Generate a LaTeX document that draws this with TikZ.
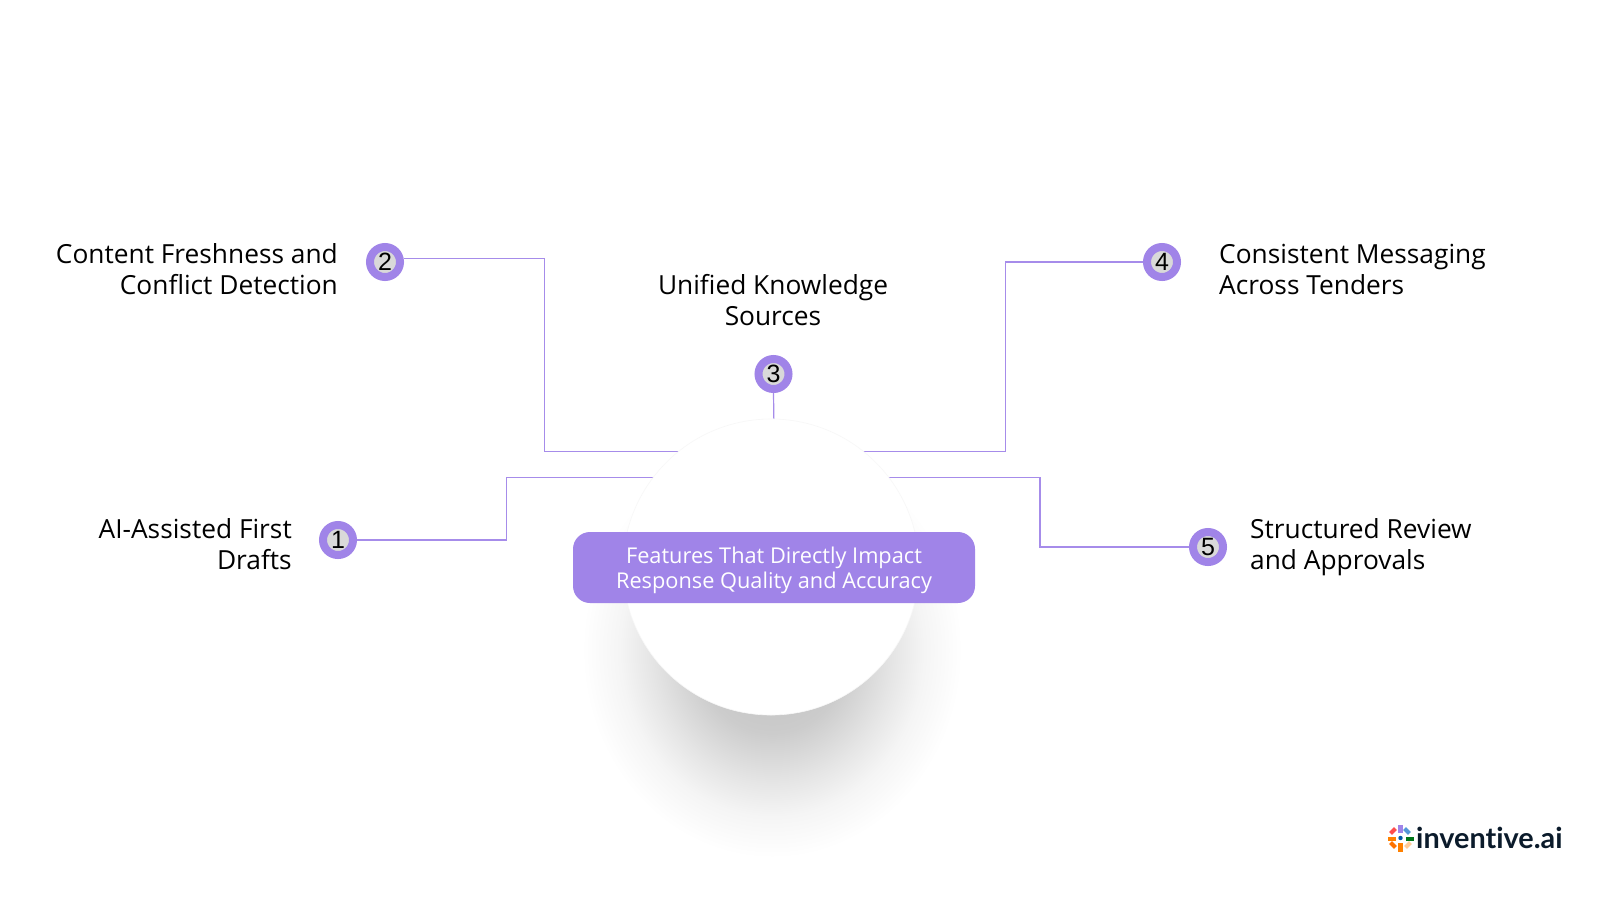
\documentclass[tikz,border=0pt]{standalone}
\usepackage{fontspec}
\setmainfont{Open Sans}
\newfontfamily\digitfont{Liberation Sans}
\newfontfamily\logofont{Lato}
\definecolor{brandpurple}{HTML}{A084E8}
\definecolor{linepurple}{HTML}{A68CEA}
\definecolor{badgegray}{HTML}{D9D9D9}
\definecolor{logoink}{HTML}{0B1B2B}
\definecolor{sA}{gray}{0.74}
\definecolor{sB}{gray}{0.80}
\definecolor{sC}{gray}{0.90}
\definecolor{sD}{gray}{0.96}
\definecolor{sE}{gray}{1.0}
\pgfdeclareradialshading{softshadow}{\pgfpoint{0bp}{0bp}}{%
color(0bp)=(sA);color(10bp)=(sB);color(16bp)=(sC);color(20bp)=(sD);color(25bp)=(sE);color(50bp)=(sE)}
\tikzset{
  link/.style={draw=linepurple,line width=1.2pt},
  badge/.style={circle,draw=brandpurple,fill=badgegray,line width=8pt,minimum size=30pt,inner sep=0pt,
    font=\digitfont\fontsize{25}{25}\selectfont,text=black},
  label/.style={font=\fontsize{26.3}{31}\selectfont,text=black,inner sep=0pt},
  pill/.style={rectangle,rounded corners=17pt,fill=brandpurple,minimum width=402pt,minimum height=71pt,inner sep=0pt},
  pilltext/.style={text=white,inner sep=0pt,align=center,font=\fontsize{21.75}{25}\selectfont},
  hub/.style={circle,fill=white,draw=black!3,line width=0.6pt,minimum size=296pt,inner sep=0pt},
}
\begin{document}
\begin{tikzpicture}[x=1pt,y=-1pt]
\useasboundingbox (0,0) rectangle (1600,900);
\fill[white] (0,0) rectangle (1600,900);
% shadow
\shade[shading=softshadow] (772,650) ellipse [x radius=190,y radius=208];
% badges
\node[badge] (b1) at (338,540) {1};
\node[badge] (b2) at (385,262) {2};
\node[badge] (b3) at (773.5,374) {3};
\node[badge] (b4) at (1162,262) {4};
\node[badge] (b5) at (1208,547) {5};
% connector ends, hidden under the hub
\coordinate (e1) at (680,477.3);
\coordinate (e2) at (700,451.7);
\coordinate (e3) at (774,430);
\coordinate (e4) at (850,451.7);
\coordinate (e5) at (870,477.3);
\coordinate (k2) at (544.5,258.5);
\draw[link] (b1.east) -- (506.6,540) -- (506.6,477.3) -- (e1);
\draw[link] (b2.east |- k2) -- (k2) -- (544.5,451.7) -- (e2);
\draw[link] (b3.south) -- (e3);
\draw[link] (b4.west) -- (1005.6,262) -- (1005.6,451.7) -- (e4);
\draw[link] (b5.west) -- (1040,547) -- (1040,477.3) -- (e5);
% hub
\node[hub] (hub) at (771,567) {};
\node[pill] (pillbox) at (774,567.5) {};
\node[pilltext] (title) at (774,570.5) {Features That Directly Impact\\Response Quality and Accuracy};
% labels
\node[label,anchor=east,align=right] (l1) at (292,544) {AI-Assisted First\\Drafts};
\node[label,anchor=east,align=right] (l2) at (338,269) {Content Freshness and\\Conflict Detection};
\node[label,align=center] (l3) at (773,300) {Unified Knowledge\\Sources};
\node[label,anchor=west,align=left] (l4) at (1219,269) {Consistent Messaging\\Across Tenders};
\node[label,anchor=west,align=left] (l5) at (1250,547) {Structured Review\\and Approvals};
% logo mark
\fill[brandpurple] (1398,825) rectangle (1402.5,833);
\fill[green!45!black!80!teal] (1406,837) rectangle (1413.5,840.5);
\fill[orange] (1388,837) rectangle (1396,841);
\fill[orange] (1398,843) rectangle (1402.5,852);
\fill[red!70!white,rotate around={45:(1393,831)}] (1389.5,829) rectangle (1396.5,833);
\fill[cyan!60!blue!70!white,rotate around={-45:(1407,831)}] (1403.5,829) rectangle (1410.5,833);
\fill[orange!90!red,rotate around={-45:(1393,845)}] (1389.5,843) rectangle (1396.5,847);
\fill[orange!40!white,rotate around={45:(1408,845)}] (1404.5,843) rectangle (1411.5,847);
\fill[teal!70!blue] (1400.5,838) circle (2.2);
\node[anchor=base west,inner sep=0pt,text=logoink,font=\logofont\bfseries\fontsize{28.8}{28}\selectfont] (logo) at (1416,848) {invent\kern0pt ive.ai};
\end{tikzpicture}
\end{document}
